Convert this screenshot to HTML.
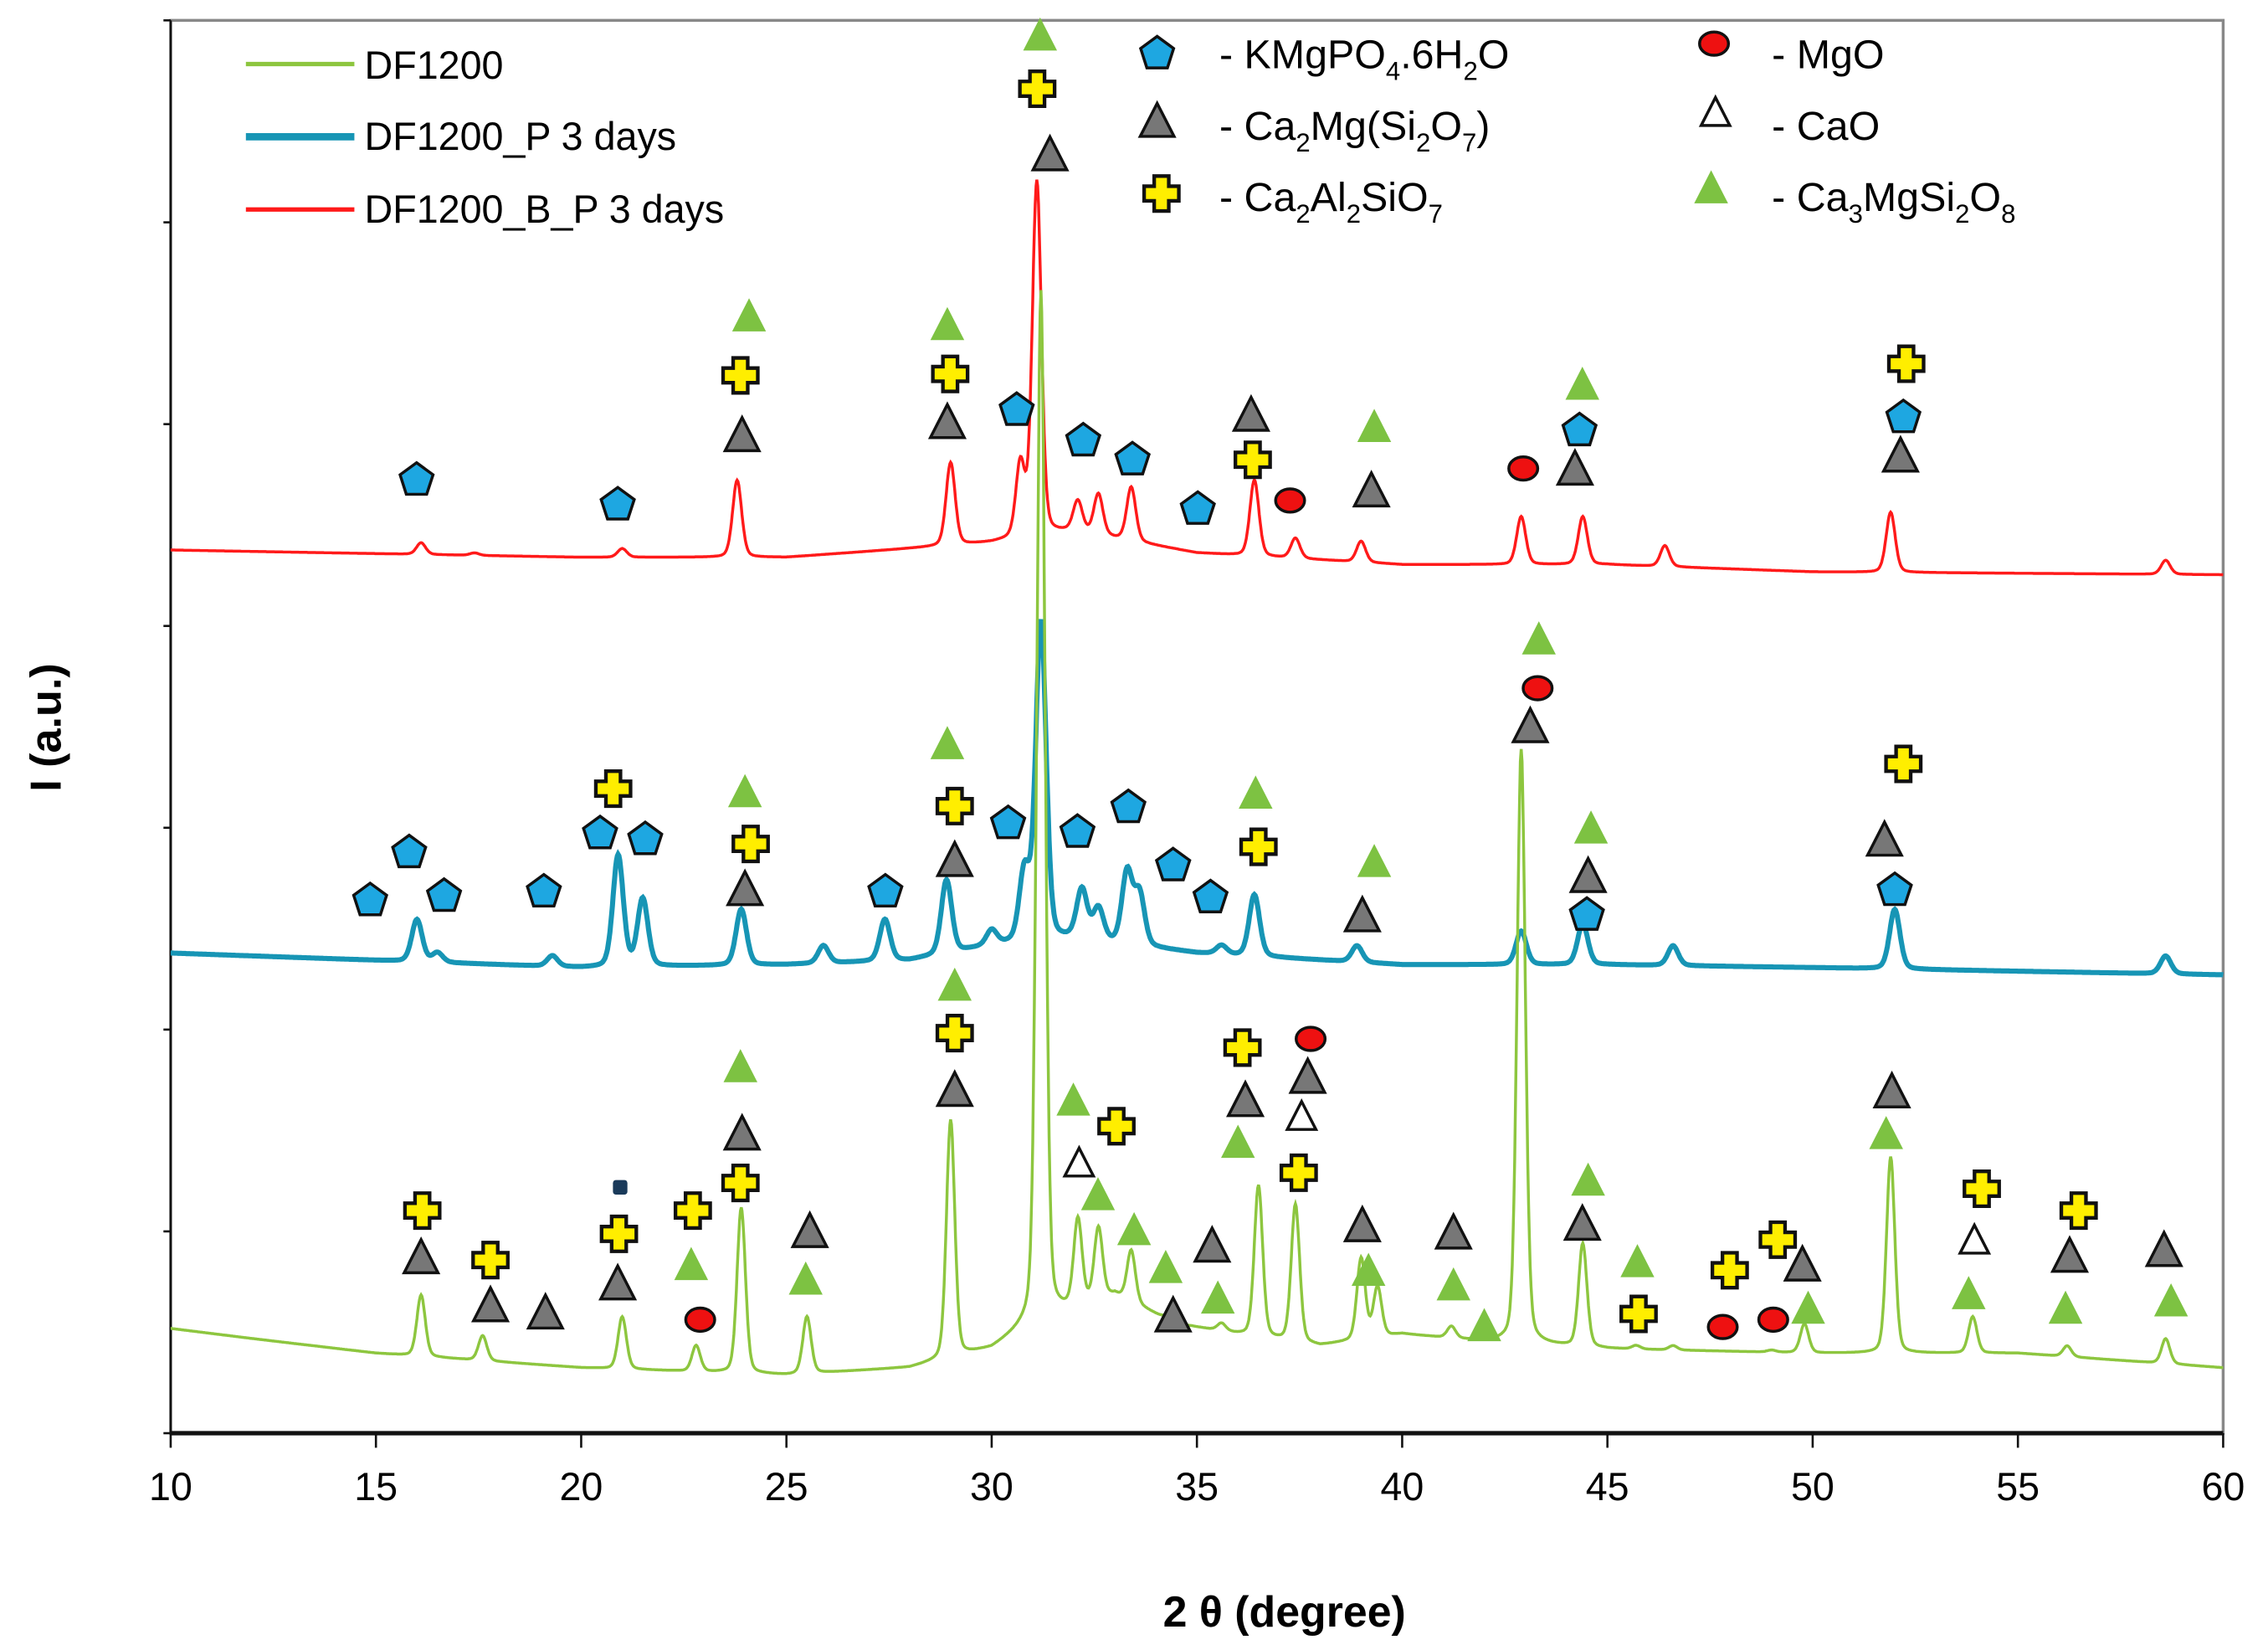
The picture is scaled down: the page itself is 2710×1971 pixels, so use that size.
<!DOCTYPE html>
<html><head><meta charset="utf-8"><style>
html,body{margin:0;padding:0;background:#fff;}
svg{display:block;}
text{font-family:"Liberation Sans",Arial,sans-serif;fill:#000;}
</style></head><body>
<svg id="chart" width="2710" height="1971" viewBox="0 0 1568 1134" preserveAspectRatio="none" xmlns="http://www.w3.org/2000/svg">
<rect x="118" y="14" width="1419" height="971" fill="#fff" stroke="#888" stroke-width="2"/>
<g id="axes"></g>
<g id="series"></g>
<g id="markers"></g>
<g id="legend">
<line x1="170" y1="44" x2="245" y2="44" stroke="#8dc63f" stroke-width="3"/>
<text x="252" y="54" font-size="27">DF1200</text>
<line x1="170" y1="94" x2="245" y2="94" stroke="#1795b5" stroke-width="5"/>
<text x="252" y="103" font-size="27">DF1200_P 3 days</text>
<line x1="170" y1="144" x2="245" y2="144" stroke="#ff1a1a" stroke-width="3"/>
<text x="252" y="153" font-size="27">DF1200_B_P 3 days</text>
<text x="843" y="47" font-size="28">- KMgPO<tspan font-size="18" dy="8">4</tspan><tspan dy="-8">.6H</tspan><tspan font-size="18" dy="8">2</tspan><tspan dy="-8">O</tspan></text>
<text x="843" y="96" font-size="28">- Ca<tspan font-size="18" dy="8">2</tspan><tspan dy="-8">Mg(Si</tspan><tspan font-size="18" dy="8">2</tspan><tspan dy="-8">O</tspan><tspan font-size="18" dy="8">7</tspan><tspan dy="-8">)</tspan></text>
<text x="843" y="145" font-size="28">- Ca<tspan font-size="18" dy="8">2</tspan><tspan dy="-8">Al</tspan><tspan font-size="18" dy="8">2</tspan><tspan dy="-8">SiO</tspan><tspan font-size="18" dy="8">7</tspan></text>
<text x="1225" y="47" font-size="28">- MgO</text>
<text x="1225" y="96" font-size="28">- CaO</text>
<text x="1225" y="145" font-size="28">- Ca<tspan font-size="18" dy="8">3</tspan><tspan dy="-8">MgSi</tspan><tspan font-size="18" dy="8">2</tspan><tspan dy="-8">O</tspan><tspan font-size="18" dy="8">8</tspan></text>
</g>
<text x="888" y="1118" font-size="30" font-weight="bold" text-anchor="middle">2 θ (degree)</text>
<text transform="translate(42,500) rotate(-90)" font-size="30" font-weight="bold" text-anchor="middle">I (a.u.)</text>
</svg>
<script>
const xTicks = [10,15,20,25,30,35,40,45,50,55,60];
const yTicks = [0,138.7,277.4,416.1,554.8,693.5,832.2,971];
// green DF1200
const gBaseX = [10,12,15,20,25,28,30,31,33,34.5,36,38,40,42,45,50,55,60];
const gBaseV = [72,65,55,45,40,45,58,75,95,75,68,60,68,63,58,55,55,45];
const gPeakX = [16.1,17.6,21.0,22.8,23.9,25.5,29.0,31.2,32.1,32.6,33.4,34.3,35.6,36.5,37.4,39.0,39.4,41.2,42.9,44.4,45.7,46.6,49.0,49.8,51.9,53.9,56.2,58.6];
const gPeakTop = [95,67,80,60,155,80,215,785,145,140,125,80,75,170,157,120,100,73,470,130,60,60,57,75,190,80,60,65];
// blue DF1200_P
const bBaseX = [10,20,25,28,30,32,35,40,45,50,60];
const bBaseV = [330,320,322,325,335,340,330,322,322,320,315];
const bPeakX = [16.0,16.5,19.3,20.9,21.5,23.9,25.9,27.4,28.9,30.0,30.8,31.2,32.2,32.6,33.3,33.6,35.6,36.4,38.9,42.9,44.4,46.6,52.0,58.6];
const bPeakTop = [353,330,328,397,367,360,335,353,380,345,385,557,373,360,385,370,335,370,335,345,350,335,360,328];
// red DF1200_B_P
const rBaseX = [10,20,25,28,30,32,35,40,45,50,60];
const rBaseV = [607,602,602,608,612,620,605,597,597,592,590];
const rPeakX = [16.1,17.4,21.0,23.8,29.0,30.7,31.1,32.1,32.6,33.4,36.4,37.4,39.0,42.9,44.4,46.4,51.9,58.6];
const rPeakTop = [612,605,608,655,667,665,860,640,645,650,655,615,613,630,630,610,633,600];
// phase markers [degree, a.u.]
const pentX = [15.99,20.89,30.61,32.23,33.43,35.02,44.32,52.21,14.86,15.81,16.66,19.09,20.46,21.56,27.41,30.40,32.09,33.33,34.42,35.33,52.00,44.50];
const pentV = [655,638,703,682,669,635,689,698,366,399,369,372,412,408,372,419,413,430,390,368,373,356];
const triX = [23.92,28.92,36.32,39.25,44.21,52.14,31.42,23.99,29.10,39.03,43.12,44.53,51.75,16.10,17.79,19.13,20.89,23.92,25.57,29.10,34.42,35.37,36.18,37.70,39.03,41.25,44.39,49.75,51.93,56.26,58.56];
const triV = [685,694,699,647,662,671,878,373,393,355,485,382,407,120,87,82,102,205,138,235,80,128,228,244,142,137,143,115,234,121,125];
const crossX = [31.11,23.88,28.99,36.36,52.28,20.78,24.13,29.10,36.50,52.21,16.13,17.79,20.92,22.72,23.88,29.10,33.04,36.11,37.48,45.76,47.98,49.15,54.12,56.48];
const crossV = [924,727,728,669,735,443,405,431,403,460,153,119,137,153,172,275,211,265,179,82,112,133,168,153];
const ellX = [37.27,42.95,43.30,22.90,37.77,47.81,49.04];
const ellV = [641,663,512,78,271,73,78];
const caoX = [32.13,37.55,53.94];
const caoV = [185,217,132];
const gtriX = [31.18,24.09,28.92,39.32,44.39,43.33,28.92,23.99,36.43,39.32,44.60,29.10,23.88,31.99,32.59,33.47,34.24,35.51,36.00,22.68,25.47,39.18,41.25,42.00,44.53,45.73,49.89,51.79,53.80,56.16,58.73];
const gtriV = [960,767,761,691,720,545,473,440,439,392,415,307,251,228,163,139,113,92,199,115,105,111,101,73,173,117,85,205,95,85,90];

const NS='http://www.w3.org/2000/svg';
const X0=118,X1=1537,Y0=985,Y1=14;
const xs=d=>X0+(d-10)/(60-10)*(X1-X0);
const ys=v=>Y0-v/971*(Y0-Y1);
function mk(tag,attrs,parent){const e=document.createElementNS(NS,tag);for(const k in attrs)e.setAttribute(k,attrs[k]);parent.appendChild(e);return e;}
const axes=document.getElementById('axes');
let ax=mk('line',{x1:X0,y1:Y0,x2:X1,y2:Y0,stroke:'#111','stroke-width':3},axes);


let ay=mk('line',{x1:X0,y1:Y0,x2:X0,y2:Y1,stroke:'#111','stroke-width':1.5},axes);


xTicks.forEach(t=>{
  let l=mk('line',{x1:xs(t),y1:Y0,x2:xs(t),y2:Y0+10,stroke:'#111','stroke-width':1.5},axes);
  
  
  let tx=mk('text',{x:xs(t),y:1031,'font-size':27,'text-anchor':'middle'},axes);
  tx.textContent=t;
  
  
});
yTicks.forEach(t=>{
  let l=mk('line',{x1:X0-5,y1:ys(t),x2:X0,y2:ys(t),stroke:'#111','stroke-width':1.5},axes);
  
  
});
function interp(xa,va,d){if(d<=xa[0])return va[0];for(let i=1;i<xa.length;i++){if(d<=xa[i]){const f=(d-xa[i-1])/(xa[i]-xa[i-1]);return va[i-1]+f*(va[i]-va[i-1]);}}return va[va.length-1];}
function curve(bx,bv,px,pt,w){
  let pts=[];
  for(let d=10;d<=60.0001;d+=0.02){
    let v=interp(bx,bv,d);
    for(let i=0;i<px.length;i++){const h=pt[i]-interp(bx,bv,px[i]);const z=(d-px[i])/w;v+=h*(0.75*Math.exp(-z*z*0.693)+0.25/(1+z*z));}
    pts.push(xs(d).toFixed(1)+','+ys(v).toFixed(1));
  }
  return pts.join(' ');
}
const ser=document.getElementById('series');
let pr=mk('polyline',{points:curve(rBaseX,rBaseV,rPeakX,rPeakTop,0.13),fill:'none',stroke:'#ff1a1a','stroke-width':2},ser);


let pb=mk('polyline',{points:curve(bBaseX,bBaseV,bPeakX,bPeakTop,0.15),fill:'none',stroke:'#1795b5','stroke-width':3.5},ser);


let pg=mk('polyline',{points:curve(gBaseX,gBaseV,gPeakX,gPeakTop,0.12),fill:'none',stroke:'#8dc63f','stroke-width':2},ser);



const mg=document.getElementById('markers');
function pent(cx,cy,r){let p=[];for(let i=0;i<5;i++){const a=-Math.PI/2+i*2*Math.PI/5;p.push((cx+r*Math.cos(a)).toFixed(1)+','+(cy+r*Math.sin(a)).toFixed(1));}return p.join(' ');}
function tri(cx,cy,r){return `${cx},${cy-r} ${cx+r*0.9},${cy+r*0.75} ${cx-r*0.9},${cy+r*0.75}`;}
function cross(cx,cy,r){const a=r*0.42;return `${cx-a},${cy-r} ${cx+a},${cy-r} ${cx+a},${cy-a} ${cx+r},${cy-a} ${cx+r},${cy+a} ${cx+a},${cy+a} ${cx+a},${cy+r} ${cx-a},${cy+r} ${cx-a},${cy+a} ${cx-r},${cy+a} ${cx-r},${cy-a} ${cx-a},${cy-a}`;}
pentX.forEach((d,i)=>{let e=mk('polygon',{points:pent(xs(d),ys(pentV[i]),12),fill:'#1ea7e1',stroke:'#111','stroke-width':2},mg);
  
  });
triX.forEach((d,i)=>{let e=mk('polygon',{points:tri(xs(d),ys(triV[i]),13),fill:'#777',stroke:'#111','stroke-width':2},mg);
  
  });
crossX.forEach((d,i)=>{let e=mk('polygon',{points:cross(xs(d),ys(crossV[i]),12),fill:'#ffee00',stroke:'#111','stroke-width':2.5},mg);
  
  });
ellX.forEach((d,i)=>{let e=mk('ellipse',{cx:xs(d),cy:ys(ellV[i]),rx:10,ry:8,fill:'#ee1111',stroke:'#111','stroke-width':2},mg);
  
  });
caoX.forEach((d,i)=>{let e=mk('polygon',{points:tri(xs(d),ys(caoV[i]),11),fill:'#fff',stroke:'#111','stroke-width':2},mg);
  
  });
gtriX.forEach((d,i)=>{let e=mk('polygon',{points:tri(xs(d),ys(gtriV[i]),13),fill:'#7dc242',stroke:'none'},mg);
  
  });
let sq=mk('rect',{x:xs(20.95)-5,y:ys(169)-5,width:10,height:10,fill:'#1a3a5a',rx:2},mg);


const lg=document.getElementById('legend');
let l1=mk('polygon',{points:pent(800,37,12),fill:'#1ea7e1',stroke:'#111','stroke-width':2},lg);


let l2=mk('polygon',{points:tri(800,84,13),fill:'#777',stroke:'#111','stroke-width':2},lg);


let l3=mk('polygon',{points:cross(803,133,12),fill:'#ffee00',stroke:'#111','stroke-width':2.5},lg);


let l4=mk('ellipse',{cx:1185,cy:30,rx:10,ry:8,fill:'#ee1111',stroke:'#111','stroke-width':2},lg);


let l5=mk('polygon',{points:tri(1186,78,11),fill:'#fff',stroke:'#111','stroke-width':2},lg);


let l6=mk('polygon',{points:tri(1183,130,13),fill:'#7dc242'},lg);


</script>
</body></html>
